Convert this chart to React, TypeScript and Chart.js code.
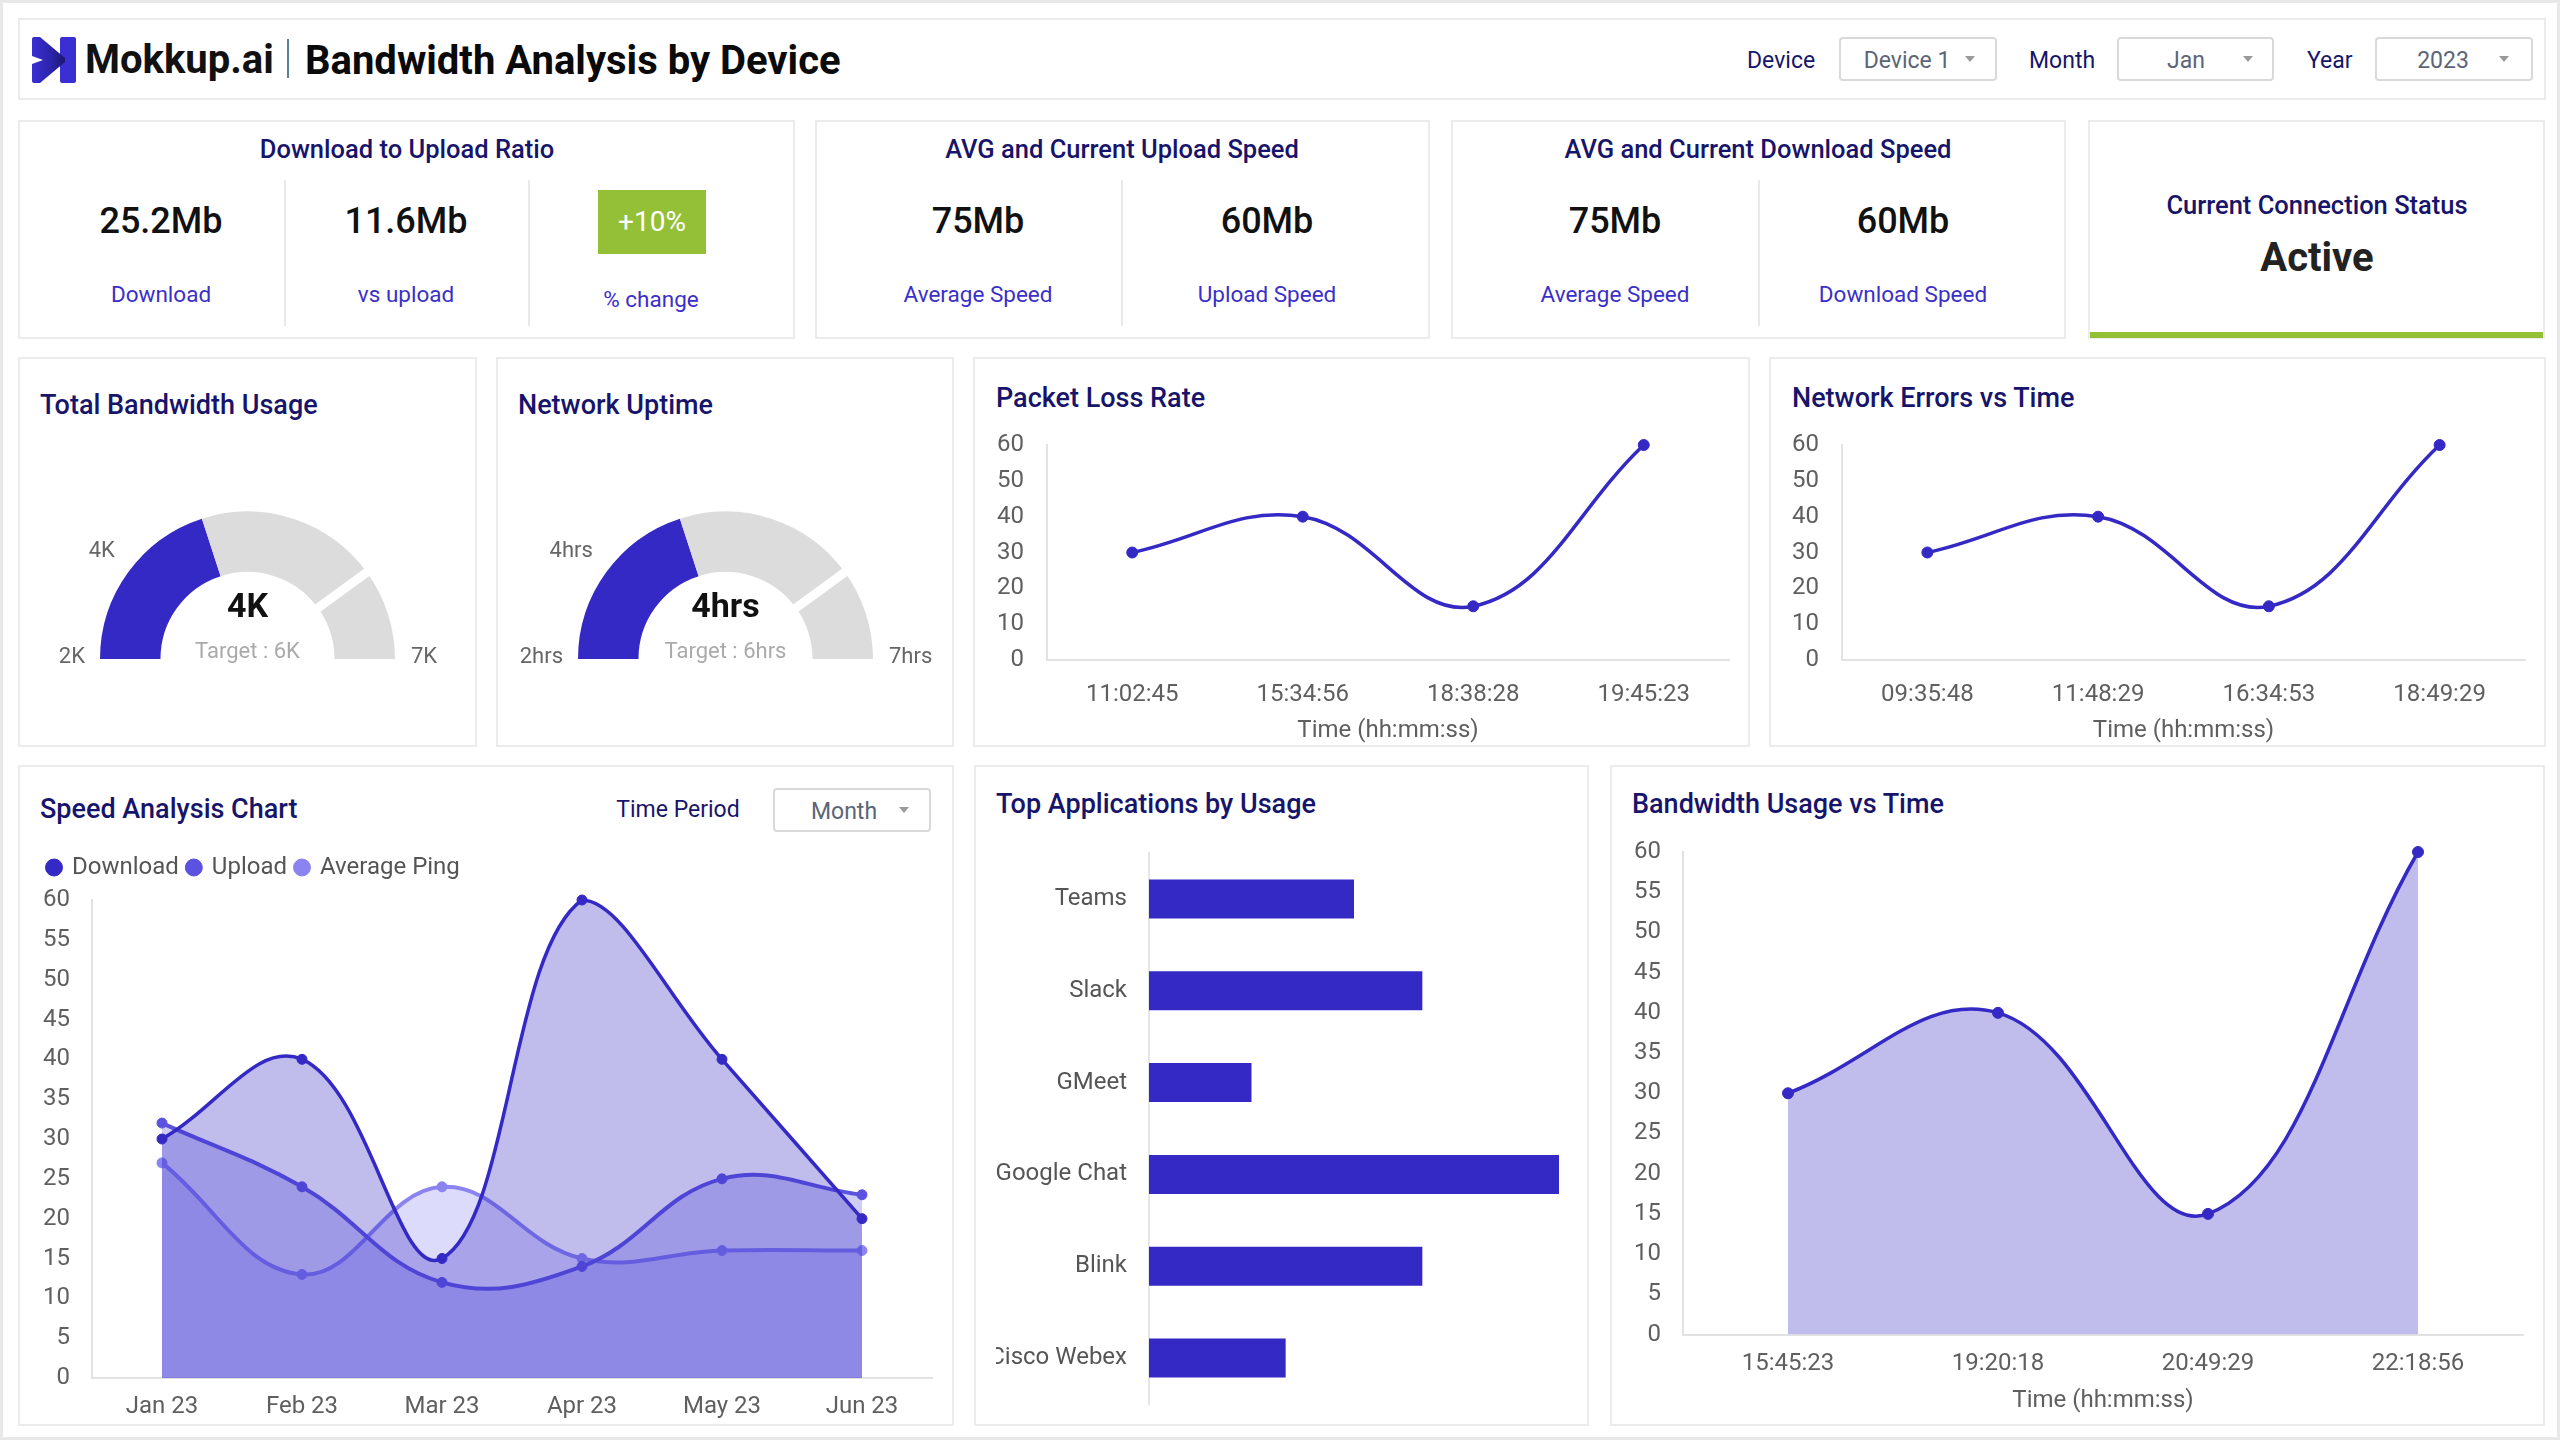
import React, { useEffect, useRef } from 'react';
import { Chart, registerables } from 'chart.js';

Chart.register(...registerables);

const FONT = 'Roboto, "Noto Sans", "DejaVu Sans", sans-serif';
Chart.defaults.font.family = FONT;
Chart.defaults.color = '#5f5f5f';

const INDIGO = '#3429c4';
const NAVY = '#17156b';
const LINK = '#3b2fc9';
const TICK = '#5f5f5f';
const AXIS = '#e2e2e2';
const GAUGE_GRAY = '#dcdcdc';
const TICK_SIZE = 24;

// ---- data ----
const packetLossTimes = ['11:02:45', '15:34:56', '18:38:28', '19:45:23'];
const packetLossValues = [30, 40, 15, 60];

const errorTimes = ['09:35:48', '11:48:29', '16:34:53', '18:49:29'];
const errorValues = [30, 40, 15, 60];

const usageTimes = ['15:45:23', '19:20:18', '20:49:29', '22:18:56'];
const usageValues = [30, 40, 15, 60];

const months = ['Jan 23', 'Feb 23', 'Mar 23', 'Apr 23', 'May 23', 'Jun 23'];
const downloadSpeed = [30, 40, 15, 60, 40, 20];
const uploadSpeed = [32, 24, 12, 14, 25, 23];
const averagePing = [27, 13, 24, 15, 16, 16];

const apps = ['Teams', 'Slack', 'GMeet', 'Google Chat', 'Blink', 'Cisco Webex'];
const appUsage = [30, 40, 15, 60, 40, 20];

// min, current, target, max
const bandwidthGauge = [2, 4, 6, 7];
const uptimeGauge = [2, 4, 6, 7];

type Box = [number, number, number, number];

// Keeps a vertical axis to a fixed width and stops its tick padding from shrinking the plot area.
const fixedYAxis = (width: number) => (s: any) => {
  s.width = width;
  s.paddingTop = 0;
  s.paddingBottom = 0;
};

// Draws the scale labels, the centre readout and the target notch of a half gauge.
const gaugeLabels = {
  id: 'gaugeLabels',
  afterDatasetsDraw(chart: any, _args: any, opts: any) {
    const arcs = chart.getDatasetMeta(0).data as any[];
    if (!arcs.length) return;
    const first = arcs[0].getProps(['x', 'y', 'startAngle', 'endAngle', 'outerRadius', 'innerRadius'], true);
    const { x, y, outerRadius: R, innerRadius: r } = first;
    const ctx = chart.ctx as CanvasRenderingContext2D;
    ctx.save();
    const a = arcs[2].getProps(['startAngle'], true).startAngle;
    ctx.strokeStyle = '#ffffff';
    ctx.lineWidth = 9;
    ctx.beginPath();
    ctx.moveTo(x + Math.cos(a) * (r - 2), y + Math.sin(a) * (r - 2));
    ctx.lineTo(x + Math.cos(a) * (R + 2), y + Math.sin(a) * (R + 2));
    ctx.stroke();

    ctx.font = `22px ${FONT}`;
    ctx.fillStyle = '#666';
    ctx.textBaseline = 'middle';
    ctx.textAlign = 'right';
    ctx.fillText(opts.min, x - R - 15, y - 2);
    ctx.textAlign = 'left';
    ctx.fillText(opts.max, x + R + 16, y - 2);
    const mid = (first.startAngle + first.endAngle) / 2;
    ctx.textAlign = 'right';
    ctx.textBaseline = 'bottom';
    ctx.fillText(opts.value, x + Math.cos(mid) * (R + 16.5), y + Math.sin(mid) * (R + 16.5));

    ctx.textAlign = 'center';
    ctx.textBaseline = 'middle';
    ctx.font = `bold 34px ${FONT}`;
    ctx.fillStyle = '#111';
    ctx.fillText(opts.value, x, y - 51);
    ctx.font = `22px ${FONT}`;
    ctx.fillStyle = '#aaaaaa';
    ctx.fillText(opts.target, x, y - 7);
    ctx.restore();
  },
};

// Adds breathing room under the legend row.
const legendGap = {
  id: 'legendGap',
  beforeInit(chart: any) {
    const legend = chart.legend;
    if (!legend) return;
    const fit = legend.fit;
    legend.fit = function () {
      fit.call(this);
      this.height += 10.5;
    };
  },
};

function gaugeConfig(g: number[], unit: string, padding: any) {
  const [min, value, target, max] = g;
  return {
    type: 'doughnut',
    data: {
      labels: ['Current', 'To target', 'Above target'],
      datasets: [
        {
          data: [value - min, target - value, max - target],
          backgroundColor: [INDIGO, GAUGE_GRAY, GAUGE_GRAY],
          borderWidth: 0,
          hoverOffset: 0,
        },
      ],
    },
    options: {
      responsive: false,
      animation: false,
      rotation: -90,
      circumference: 180,
      cutout: '59%',
      layout: { padding },
      plugins: {
        legend: { display: false },
        tooltip: { enabled: false },
        gaugeLabels: {
          min: `${min}${unit}`,
          max: `${max}${unit}`,
          value: `${value}${unit}`,
          target: `Target : ${target}${unit}`,
        },
      },
    },
    plugins: [gaugeLabels],
  };
}

function trendConfig(
  labels: string[],
  values: number[],
  o: { step: number; fill: boolean; yWidth: number; xHeight: number; padding: any; yPad: number; xPad: number }
) {
  return {
    type: 'line',
    data: {
      labels,
      datasets: [
        {
          data: values,
          borderColor: INDIGO,
          backgroundColor: o.fill ? 'rgba(52,41,196,0.31)' : INDIGO,
          fill: o.fill ? 'origin' : false,
          borderWidth: 3.5,
          tension: 0.4,
          pointRadius: 5.5,
          pointBackgroundColor: INDIGO,
          pointBorderColor: INDIGO,
          pointBorderWidth: 1,
          clip: false,
        },
      ],
    },
    options: {
      responsive: false,
      animation: false,
      layout: { padding: o.padding },
      plugins: { legend: { display: false }, tooltip: { enabled: false } },
      scales: {
        x: {
          offset: true,
          grid: { display: false, drawTicks: false },
          border: { display: true, color: AXIS, width: 2 },
          ticks: { color: TICK, font: { size: TICK_SIZE }, padding: o.xPad, maxRotation: 0, autoSkip: false },
          title: { display: true, text: 'Time (hh:mm:ss)', color: TICK, font: { size: TICK_SIZE }, padding: 0 },
          afterFit: (s: any) => {
            s.height = o.xHeight;
          },
        },
        y: {
          min: 0,
          max: 60,
          grid: { display: false, drawTicks: false },
          border: { display: true, color: AXIS, width: 2 },
          ticks: { stepSize: o.step, color: TICK, font: { size: TICK_SIZE }, padding: o.yPad },
          afterFit: fixedYAxis(o.yWidth),
        },
      },
    },
  };
}

function speedConfig() {
  const series = [
    { label: 'Download', data: downloadSpeed, borderColor: '#3429c4', backgroundColor: 'rgba(52,41,196,0.31)', borderWidth: 3.5 },
    { label: 'Upload', data: uploadSpeed, borderColor: '#5b52e0', backgroundColor: 'rgba(91,82,224,0.29)', borderWidth: 4 },
    { label: 'Average Ping', data: averagePing, borderColor: '#8a83f0', backgroundColor: 'rgba(100,90,235,0.22)', borderWidth: 4 },
  ];
  return {
    type: 'line',
    data: {
      labels: months,
      datasets: series.map((d) => ({
        ...d,
        fill: 'origin',
        tension: 0.4,
        pointRadius: 5,
        pointBackgroundColor: d.borderColor,
        pointBorderColor: d.borderColor,
        pointBorderWidth: 1,
        clip: false,
      })),
    },
    options: {
      responsive: false,
      animation: false,
      layout: { padding: { left: 11, top: 6.5, right: 16, bottom: 0 } },
      plugins: {
        tooltip: { enabled: false },
        legend: {
          position: 'top',
          align: 'start',
          labels: { usePointStyle: true, boxWidth: 12, boxHeight: 12, padding: 9, color: '#555', font: { size: 24 } },
        },
      },
      scales: {
        x: {
          offset: true,
          grid: { display: false, drawTicks: false },
          border: { display: true, color: AXIS, width: 2 },
          ticks: { color: TICK, font: { size: TICK_SIZE }, padding: 15, maxRotation: 0, autoSkip: false },
          afterFit: (s: any) => {
            s.height = 46;
          },
        },
        y: {
          min: 0,
          max: 60,
          grid: { display: false, drawTicks: false },
          border: { display: true, color: AXIS, width: 2 },
          ticks: { stepSize: 5, color: TICK, font: { size: TICK_SIZE }, padding: 22 },
          afterFit: fixedYAxis(53),
        },
      },
    },
    plugins: [legendGap],
  };
}

function appsConfig() {
  return {
    type: 'bar',
    data: {
      labels: apps,
      datasets: [{ data: appUsage, backgroundColor: INDIGO, categoryPercentage: 0.5, barPercentage: 0.85 }],
    },
    options: {
      indexAxis: 'y',
      responsive: false,
      animation: false,
      layout: { padding: { top: 10, bottom: 10, right: 16, left: 0 } },
      plugins: { legend: { display: false }, tooltip: { enabled: false } },
      scales: {
        x: { display: false, min: 0, max: 60 },
        y: {
          grid: { display: false, drawTicks: false },
          border: { display: true, color: '#e6e6e6', width: 2 },
          ticks: { color: '#555', font: { size: 24 }, padding: 22 },
          afterFit: fixedYAxis(153),
        },
      },
    },
  };
}

function ChartCanvas({ box, config }: { box: Box; config: () => any }) {
  const ref = useRef<HTMLCanvasElement | null>(null);
  useEffect(() => {
    if (!ref.current) return;
    const chart = new Chart(ref.current, config());
    return () => chart.destroy();
  }, []);
  const [left, top, width, height] = box;
  return (
    <canvas
      ref={ref}
      width={width}
      height={height}
      style={{ position: 'absolute', left, top, width, height, display: 'block' }}
    />
  );
}

function Txt({
  x,
  y,
  children,
  size = 22,
  weight = 400,
  color = '#111',
  align = 'center',
  spacing = 0,
}: {
  x: number;
  y: number;
  children: React.ReactNode;
  size?: number;
  weight?: number;
  color?: string;
  align?: 'left' | 'center' | 'right';
  spacing?: number;
}) {
  const tx = align === 'center' ? '-50%' : align === 'right' ? '-100%' : '0';
  return (
    <div
      style={{
        position: 'absolute',
        left: x,
        top: y,
        transform: `translate(${tx}, -50%)`,
        fontSize: size,
        fontWeight: weight,
        color,
        whiteSpace: 'nowrap',
        lineHeight: 1,
        fontFamily: FONT,
        letterSpacing: spacing,
      }}
    >
      {children}
    </div>
  );
}

function Card({ l, t, w, h, children }: { l: number; t: number; w: number; h: number; children?: React.ReactNode }) {
  return (
    <div
      style={{
        position: 'absolute',
        left: l,
        top: t,
        width: w,
        height: h,
        boxSizing: 'border-box',
        border: '2px solid #ebebeb',
        background: '#fff',
      }}
    >
      {children}
    </div>
  );
}

function VLine({ x, y1, y2 }: { x: number; y1: number; y2: number }) {
  return <div style={{ position: 'absolute', left: x, top: y1, width: 2, height: y2 - y1, background: '#e9e9e9' }} />;
}

function Select({ l, t, w, text, textX, caretX }: { l: number; t: number; w: number; text: string; textX: number; caretX: number }) {
  return (
    <>
      <div
        style={{
          position: 'absolute',
          left: l,
          top: t,
          width: w,
          height: 44,
          boxSizing: 'border-box',
          border: '2px solid #d9d9d9',
          borderRadius: 4,
          background: '#fff',
        }}
      />
      <Txt x={textX} y={t + 23} size={23} color="#5b6577">
        {text}
      </Txt>
      <div
        style={{
          position: 'absolute',
          left: caretX - 5,
          top: t + 19,
          width: 0,
          height: 0,
          borderLeft: '5px solid transparent',
          borderRight: '5px solid transparent',
          borderTop: '6px solid #9a9a9a',
        }}
      />
    </>
  );
}

function Logo() {
  return (
    <svg width={46} height={46} viewBox="0 0 46 46" style={{ position: 'absolute', left: 31, top: 37 }}>
      <defs>
        <linearGradient id="mkGrad" x1="0" y1="0" x2="1" y2="0">
          <stop offset="0" stopColor="#3a2fd2" />
          <stop offset="0.6" stopColor="#2b24a8" />
          <stop offset="1" stopColor="#1c1870" />
        </linearGradient>
      </defs>
      <rect x={29} y={0} width={16} height={46} rx={2} fill="#3a2fd2" />
      <path d="M1 2 Q1 0 3 0 L9 0 L34 21 L34 25 L9 46 L3 46 Q1 46 1 44 L1 27 L12 23 L1 19 Z" fill="url(#mkGrad)" />
    </svg>
  );
}

export default function App() {
  return (
    <div
      style={{
        position: 'absolute',
        left: 0,
        top: 0,
        width: 2560,
        height: 1440,
        background: '#fff',
        fontFamily: FONT,
        overflow: 'hidden',
      }}
    >
      <div
        style={{
          position: 'absolute',
          left: 0,
          top: 0,
          width: 2560,
          height: 1440,
          boxSizing: 'border-box',
          border: '3px solid #e8e8e8',
        }}
      />

      {/* header */}
      <Card l={18} t={18} w={2528} h={82} />
      <Logo />
      <Txt x={85} y={60} size={40} weight={700} color="#111" align="left">
        Mokkup.ai
      </Txt>
      <div style={{ position: 'absolute', left: 287, top: 39, width: 1.5, height: 39, background: '#5e7f99' }} />
      <Txt x={305} y={61} size={40} weight={700} color="#0a0a0a" align="left">
        Bandwidth Analysis by Device
      </Txt>
      <Txt x={1747} y={60} size={23} color={NAVY} align="left">
        Device
      </Txt>
      <Select l={1839} t={37} w={158} text="Device 1" textX={1907} caretX={1970} />
      <Txt x={2029} y={60} size={23} color={NAVY} align="left">
        Month
      </Txt>
      <Select l={2117} t={37} w={157} text="Jan" textX={2186} caretX={2248} />
      <Txt x={2307} y={60} size={23} color={NAVY} align="left">
        Year
      </Txt>
      <Select l={2375} t={37} w={158} text="2023" textX={2443} caretX={2504} />

      {/* KPI row */}
      <Card l={18} t={120} w={777} h={219} />
      <Txt x={407} y={150} size={25.5} weight={500} color={NAVY}>
        Download to Upload Ratio
      </Txt>
      <VLine x={284} y1={180} y2={326} />
      <VLine x={528} y1={180} y2={326} />
      <Txt x={161} y={221} size={36} weight={500}>
        25.2Mb
      </Txt>
      <Txt x={406} y={221} size={36} weight={500}>
        11.6Mb
      </Txt>
      <div style={{ position: 'absolute', left: 598, top: 190, width: 108, height: 64, background: '#94c038' }} />
      <Txt x={652} y={222} size={28} color="#ffffff">
        +10%
      </Txt>
      <Txt x={161} y={294} size={22.5} color={LINK}>
        Download
      </Txt>
      <Txt x={406} y={294} size={22.5} color={LINK}>
        vs upload
      </Txt>
      <Txt x={651} y={299} size={22.5} color={LINK}>
        % change
      </Txt>

      <Card l={815} t={120} w={615} h={219} />
      <Txt x={1122} y={150} size={25.5} weight={500} color={NAVY}>
        AVG and Current Upload Speed
      </Txt>
      <VLine x={1121} y1={180} y2={326} />
      <Txt x={978} y={221} size={36} weight={500}>
        75Mb
      </Txt>
      <Txt x={1267} y={221} size={36} weight={500}>
        60Mb
      </Txt>
      <Txt x={978} y={294} size={22.5} color={LINK}>
        Average Speed
      </Txt>
      <Txt x={1267} y={294} size={22.5} color={LINK}>
        Upload Speed
      </Txt>

      <Card l={1451} t={120} w={615} h={219} />
      <Txt x={1758} y={150} size={25.5} weight={500} color={NAVY}>
        AVG and Current Download Speed
      </Txt>
      <VLine x={1758} y1={180} y2={326} />
      <Txt x={1615} y={221} size={36} weight={500}>
        75Mb
      </Txt>
      <Txt x={1903} y={221} size={36} weight={500}>
        60Mb
      </Txt>
      <Txt x={1615} y={294} size={22.5} color={LINK}>
        Average Speed
      </Txt>
      <Txt x={1903} y={294} size={22.5} color={LINK}>
        Download Speed
      </Txt>

      <Card l={2088} t={120} w={457} h={219} />
      <div style={{ position: 'absolute', left: 2090, top: 332, width: 453, height: 6, background: '#94c038' }} />
      <Txt x={2317} y={206} size={25.5} weight={500} color={NAVY}>
        Current Connection Status
      </Txt>
      <Txt x={2317} y={258} size={40} weight={700} color="#222">
        Active
      </Txt>

      {/* second row */}
      <Card l={18} t={357} w={459} h={390} />
      <Txt x={40} y={405} size={27} weight={500} color={NAVY} align="left">
        Total Bandwidth Usage
      </Txt>
      <ChartCanvas
        box={[30, 480, 440, 200]}
        config={() => gaugeConfig(bandwidthGauge, 'K', { left: 70, right: 75, top: 31.5, bottom: 21 })}
      />

      <Card l={496} t={357} w={458} h={390} />
      <Txt x={518} y={405} size={27} weight={500} color={NAVY} align="left">
        Network Uptime
      </Txt>
      <ChartCanvas
        box={[503, 480, 445, 200]}
        config={() => gaugeConfig(uptimeGauge, 'hrs', { left: 75, right: 75, top: 31.5, bottom: 21 })}
      />

      <Card l={973} t={357} w={777} h={390} />
      <Txt x={996} y={398} size={27} weight={500} color={NAVY} align="left">
        Packet Loss Rate
      </Txt>
      <ChartCanvas
        box={[985, 430, 760, 316]}
        config={() =>
          trendConfig(packetLossTimes, packetLossValues, {
            step: 10,
            fill: false,
            yWidth: 62,
            xHeight: 85,
            padding: { top: 15, right: 16, bottom: 1, left: 0 },
            yPad: 23,
            xPad: 21,
          })
        }
      />

      <Card l={1769} t={357} w={777} h={390} />
      <Txt x={1792} y={398} size={27} weight={500} color={NAVY} align="left">
        Network Errors vs Time
      </Txt>
      <ChartCanvas
        box={[1780, 430, 760, 316]}
        config={() =>
          trendConfig(errorTimes, errorValues, {
            step: 10,
            fill: false,
            yWidth: 62,
            xHeight: 85,
            padding: { top: 15, right: 15, bottom: 1, left: 0 },
            yPad: 23,
            xPad: 21,
          })
        }
      />

      {/* third row */}
      <Card l={18} t={765} w={936} h={661} />
      <Txt x={40} y={809} size={27} weight={500} color={NAVY} align="left">
        Speed Analysis Chart
      </Txt>
      <Txt x={678} y={809} size={23} color={NAVY}>
        Time Period
      </Txt>
      <Select l={773} t={788} w={158} text="Month" textX={844} caretX={904} />
      <ChartCanvas box={[28, 840, 920, 584]} config={speedConfig} />

      <Card l={974} t={765} w={615} h={661} />
      <Txt x={996} y={804} size={27} weight={500} color={NAVY} align="left">
        Top Applications by Usage
      </Txt>
      <ChartCanvas box={[996, 843, 579, 571]} config={appsConfig} />

      <Card l={1610} t={765} w={935} h={661} />
      <Txt x={1632} y={804} size={27} weight={500} color={NAVY} align="left">
        Bandwidth Usage vs Time
      </Txt>
      <ChartCanvas
        box={[1620, 837, 920, 588]}
        config={() =>
          trendConfig(usageTimes, usageValues, {
            step: 5,
            fill: true,
            yWidth: 63,
            xHeight: 81,
            padding: { top: 15, right: 17, bottom: 9.5, left: 0 },
            yPad: 22,
            xPad: 15,
          })
        }
      />
    </div>
  );
}
